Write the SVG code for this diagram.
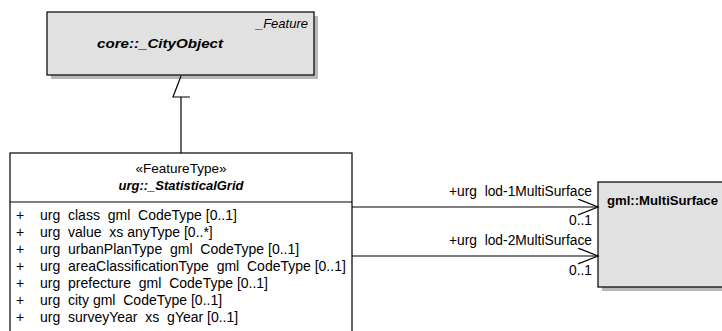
<svg xmlns="http://www.w3.org/2000/svg" width="722" height="331" viewBox="0 0 722 331">
<style>
text{font-family:"Liberation Sans",Arial,sans-serif;fill:#000;white-space:pre}
.shadow{fill:#b8b8b8;stroke:none}
.box{stroke:#000;stroke-width:1.2}
.gray{fill:#e1e1e1}
.white{fill:#fff}
.attr{font-size:14px}
.lbl{font-size:13.8px;text-anchor:end}
.conn{stroke:#000;stroke-width:1.2;fill:none}
</style>
<defs>
<marker id="open" markerWidth="22" markerHeight="18" refX="20" refY="8" orient="auto" markerUnits="userSpaceOnUse">
<path d="M0,0 L20,8 L0,16" fill="none" stroke="#000" stroke-width="1.2"/>
</marker>
</defs>
<rect width="722" height="331" fill="#fff"/>
<g id="node-cityobject">
<rect class="shadow" x="51" y="16" width="267" height="63"/>
<rect class="box gray" x="47" y="12" width="267" height="63"/>
<text x="308" y="28" font-size="13" font-style="italic" text-anchor="end">_Feature</text>
<text x="160" y="48" font-size="12.5" font-weight="bold" font-style="italic" text-anchor="middle" textLength="126" lengthAdjust="spacingAndGlyphs">core::_CityObject</text>
</g>
<g id="node-multisurface">
<rect class="shadow" x="602" y="186" width="130" height="105"/>
<rect class="box gray" x="598" y="182" width="130" height="105"/>
<text x="607" y="205" font-size="12" font-weight="bold" textLength="111" lengthAdjust="spacingAndGlyphs">gml::MultiSurface</text>
</g>
<g id="node-statisticalgrid">
<rect class="box white" x="10" y="153" width="342" height="190"/>
<line x1="10" y1="202" x2="352" y2="202" stroke="#000" stroke-width="1.2"/>
<text x="181" y="173" font-size="13.5" text-anchor="middle">«FeatureType»</text>
<text x="181" y="190" font-size="13" font-weight="bold" font-style="italic" text-anchor="middle">urg::_StatisticalGrid</text>
<g class="attr">
<text x="16" y="220">+</text><text x="40" y="220">urg  class  gml  CodeType [0..1]</text>
<text x="16" y="237">+</text><text x="40" y="237">urg  value  xs anyType [0..*]</text>
<text x="16" y="254">+</text><text x="40" y="254">urg  urbanPlanType  gml  CodeType [0..1]</text>
<text x="16" y="271">+</text><text x="40" y="271">urg  areaClassificationType  gml  CodeType [0..1]</text>
<text x="16" y="288">+</text><text x="40" y="288">urg  prefecture  gml  CodeType [0..1]</text>
<text x="16" y="305">+</text><text x="40" y="305">urg  city gml  CodeType [0..1]</text>
<text x="16" y="322">+</text><text x="40" y="322">urg  surveyYear  xs  gYear [0..1]</text>
</g>
</g>
<g id="connectors">
<polyline class="conn" points="181,76 173,97 190,97"/>
<line class="conn" x1="181" y1="97" x2="181" y2="153"/>
<line class="conn" x1="352" y1="207" x2="598" y2="207" marker-end="url(#open)"/>
<line class="conn" x1="352" y1="256" x2="598" y2="256" marker-end="url(#open)"/>
<text class="lbl" x="592" y="196">+urg  lod-1MultiSurface</text>
<text class="lbl" x="592" y="225">0..1</text>
<text class="lbl" x="592" y="245">+urg  lod-2MultiSurface</text>
<text class="lbl" x="592" y="275">0..1</text>
</g>
</svg>
